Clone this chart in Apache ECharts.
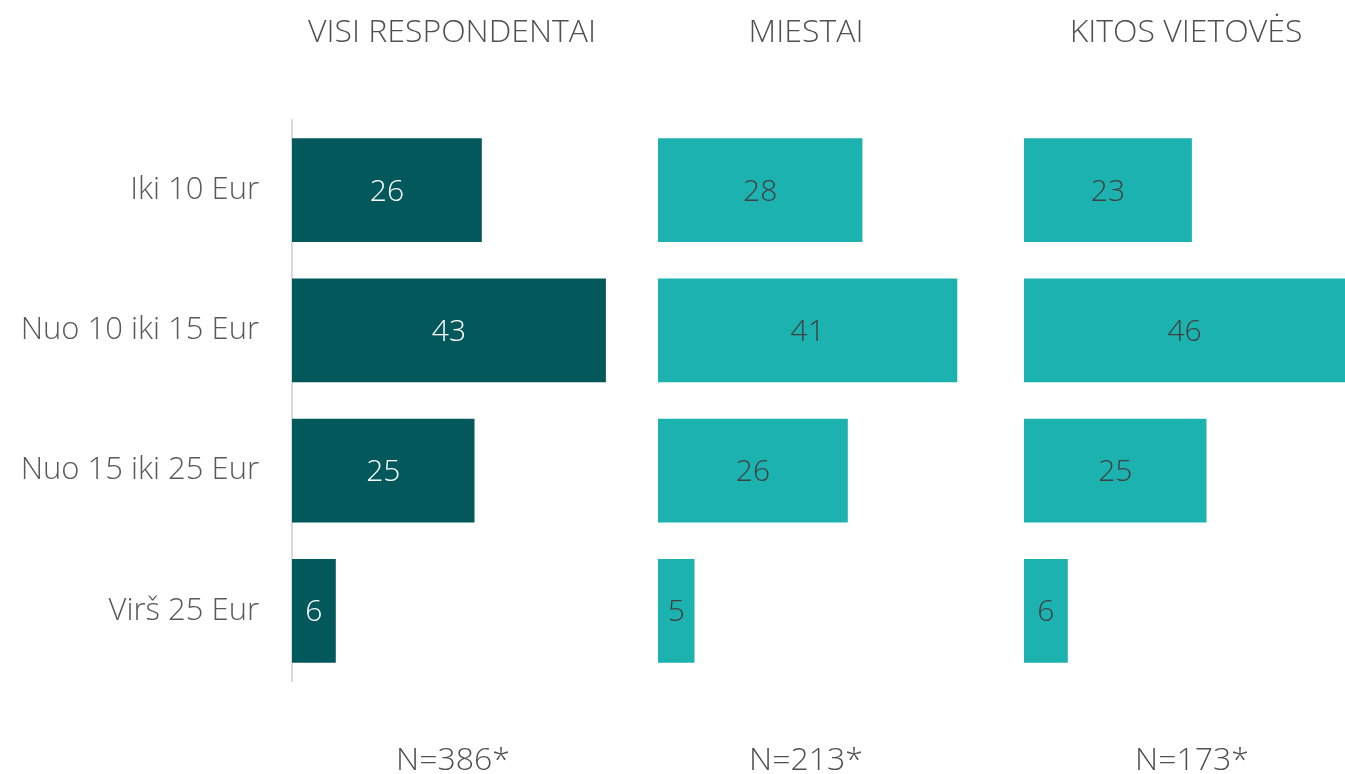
<!DOCTYPE html>
<html>
<head>
<meta charset="utf-8">
<script src="https://cdn.jsdelivr.net/npm/echarts@6/dist/echarts.min.js"></script>
<style>
  html, body { margin: 0; padding: 0; background: #fff; }
  #main { width: 1345px; height: 774px; }
</style>
</head>
<body>
<div id="main"></div>
<script>
const categories = ['Iki 10 Eur', 'Nuo 10 iki 15 Eur', 'Nuo 15 iki 25 Eur', 'Virš 25 Eur']
const visi = [26, 43, 25, 6]
const miestai = [28, 41, 26, 5]
const kitos = [23, 46, 25, 6]
const panelTitles = ['VISI RESPONDENTAI', 'MIESTAI', 'KITOS VIETOVĖS']
const nLabels = ['N=386*', 'N=213*', 'N=173*']

const font = '"Open Sans", "DejaVu Sans", sans-serif'
// same scale (7.3 px per unit) in every panel; the last one runs off the right edge
const panelLeft = [292, 658, 1024]
const panelWidth = [365, 365, 321]
const panelMax = [50, 50, 321 / 7.3]
const titleX = [452, 806, 1186]
const nX = [453, 806, 1192]
const colors = ['#03585c', '#1cb2b0', '#1cb2b0']
const labelColors = ['#ffffff', '#404040', '#404040']
const seriesData = [visi, miestai, kitos]

const option = {
  animation: false,
  backgroundColor: '#ffffff',
  textStyle: { fontFamily: font },
  title: panelTitles.map((t, i) => ({
    text: t,
    left: titleX[i],
    top: 17,
    padding: 0,
    textAlign: 'center',
    textStyle: { fontFamily: font, fontSize: 32, fontWeight: 300, color: '#505050' }
  })).concat(nLabels.map((t, i) => ({
    text: t,
    left: nX[i],
    top: 745,
    padding: 0,
    textAlign: 'center',
    textStyle: { fontFamily: font, fontSize: 32, fontWeight: 300, color: '#505050' }
  }))),
  grid: panelLeft.map((l, i) => ({ left: l, width: panelWidth[i], top: 120, height: 561 })),
  xAxis: panelLeft.map((l, i) => ({
    gridIndex: i, type: 'value', min: 0, max: panelMax[i], show: false
  })),
  yAxis: panelLeft.map((l, i) => ({
    gridIndex: i,
    type: 'category',
    inverse: true,
    data: categories,
    axisLine: { show: i === 0, lineStyle: { color: '#d9d9d9', width: 2 } },
    axisTick: { show: false },
    axisLabel: {
      show: i === 0, fontFamily: font, fontSize: 31, fontWeight: 300,
      color: '#595959', margin: 33, padding: [4, 0, 0, 0]
    }
  })),
  series: seriesData.map((d, i) => ({
    type: 'bar',
    xAxisIndex: i,
    yAxisIndex: i,
    data: d,
    barWidth: '74%',
    clip: true,
    itemStyle: { color: colors[i] },
    label: {
      show: true, position: 'inside', offset: [0, 2], fontFamily: font, fontSize: 30,
      fontWeight: 300, color: labelColors[i]
    }
  }))
}

const chart = echarts.init(document.getElementById('main'))
chart.setOption(option)
</script>
</body>
</html>
